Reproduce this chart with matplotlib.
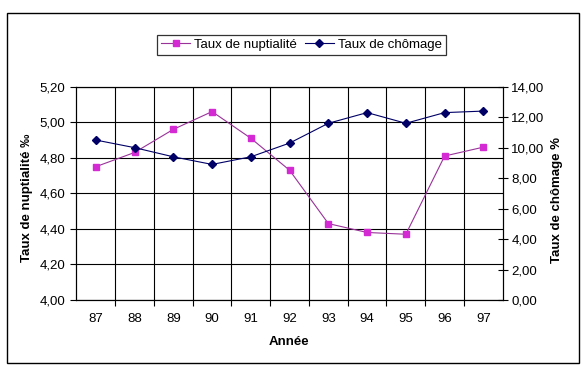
import matplotlib
matplotlib.use("Agg")
import matplotlib.pyplot as plt
from matplotlib.patches import Rectangle
from matplotlib.ticker import FixedLocator, FuncFormatter

years = ["87", "88", "89", "90", "91", "92", "93", "94", "95", "96", "97"]
nuptialite = [4.75, 4.83, 4.96, 5.06, 4.91, 4.73, 4.43, 4.38, 4.37, 4.81, 4.86]
chomage = [10.5, 10.0, 9.4, 8.9, 9.4, 10.3, 11.6, 12.3, 11.6, 12.3, 12.4]
left_ticks = [4.00, 4.20, 4.40, 4.60, 4.80, 5.00, 5.20]
right_ticks = [0, 2, 4, 6, 8, 10, 12, 14]

plt.rcParams['font.family'] = ['Liberation Sans', 'DejaVu Sans']

fig = plt.figure(figsize=(5.88, 3.78), dpi=100)
fig.patch.set_facecolor('white')

# outer frame
fig.patches.append(Rectangle((0.0114, 0.0405), 0.9738, 0.9243, transform=fig.transFigure,
                             fill=False, edgecolor='black', linewidth=1.0))

ax = fig.add_axes([0.130, 0.2063, 0.725, 0.5643])
ax2 = ax.twinx()

x = list(range(len(years)))
pink_line, = ax.plot(x, nuptialite, color='#993399', linewidth=0.8, marker='s',
                     markersize=4.5, markerfacecolor='#D42AD4', markeredgecolor='#D42AD4',
                     label='Taux de nuptialité', zorder=3)
navy_line, = ax2.plot(x, chomage, color='#000066', linewidth=0.8, marker='D',
                      markersize=4, markerfacecolor='#000066', markeredgecolor='#000066',
                      label='Taux de chômage', zorder=3)

ax.set_xlim(-0.5, len(years) - 0.5)
ax.set_ylim(4.0, 5.2)
ax2.set_ylim(0, 14)

fmt = FuncFormatter(lambda v, p: f"{v:.2f}".replace('.', ','))
ax.yaxis.set_major_locator(FixedLocator(left_ticks))
ax.yaxis.set_major_formatter(fmt)
ax2.yaxis.set_major_locator(FixedLocator(right_ticks))
ax2.yaxis.set_major_formatter(fmt)

ax.set_xticks(x)
ax.set_xticklabels(years)
ax.set_xticks([i + 0.5 for i in x[:-1]], minor=True)
ax.tick_params(axis='x', which='major', length=0, pad=9, labelsize=9.5)
ax.tick_params(axis='x', which='minor', length=4.5, width=0.8, direction='out')
ax.tick_params(axis='y', length=4.3, width=0.8, pad=3.5, labelsize=9.5, direction='out')
ax2.tick_params(axis='y', length=6.5, width=0.8, pad=3, labelsize=9.5, direction='inout')

ax.grid(True, axis='y', which='major', color='black', linewidth=0.8)
ax.grid(True, axis='x', which='minor', color='black', linewidth=0.8)
ax.set_axisbelow(True)

for a in (ax, ax2):
    for s in a.spines.values():
        s.set_color('black')
        s.set_linewidth(0.8)

ax.set_ylabel('Taux de nuptialité ‰', fontsize=9.5, fontweight='bold')
ax.yaxis.set_label_coords(-0.117, 0.48)
ax.yaxis.label.set_va('center')
ax2.set_ylabel('Taux de chômage %', fontsize=9.5, fontweight='bold')
ax2.yaxis.set_label_coords(1.127, 0.47)
ax2.yaxis.label.set_va('center')
ax.set_xlabel('Année', fontsize=9.5, fontweight='bold')
ax.xaxis.set_label_coords(0.4986, -0.196)
ax.xaxis.label.set_va('center')

leg = fig.legend(handles=[pink_line, navy_line], loc='center', bbox_to_anchor=(0.5126, 0.8817),
                 ncol=2, frameon=True, fancybox=False, edgecolor='black', fontsize=9.5,
                 handlelength=2.2, handletextpad=0.3, columnspacing=0.6, borderpad=0.3)
leg.get_frame().set_linewidth(0.9)

fig.savefig('out.png', dpi=100, facecolor='white')
